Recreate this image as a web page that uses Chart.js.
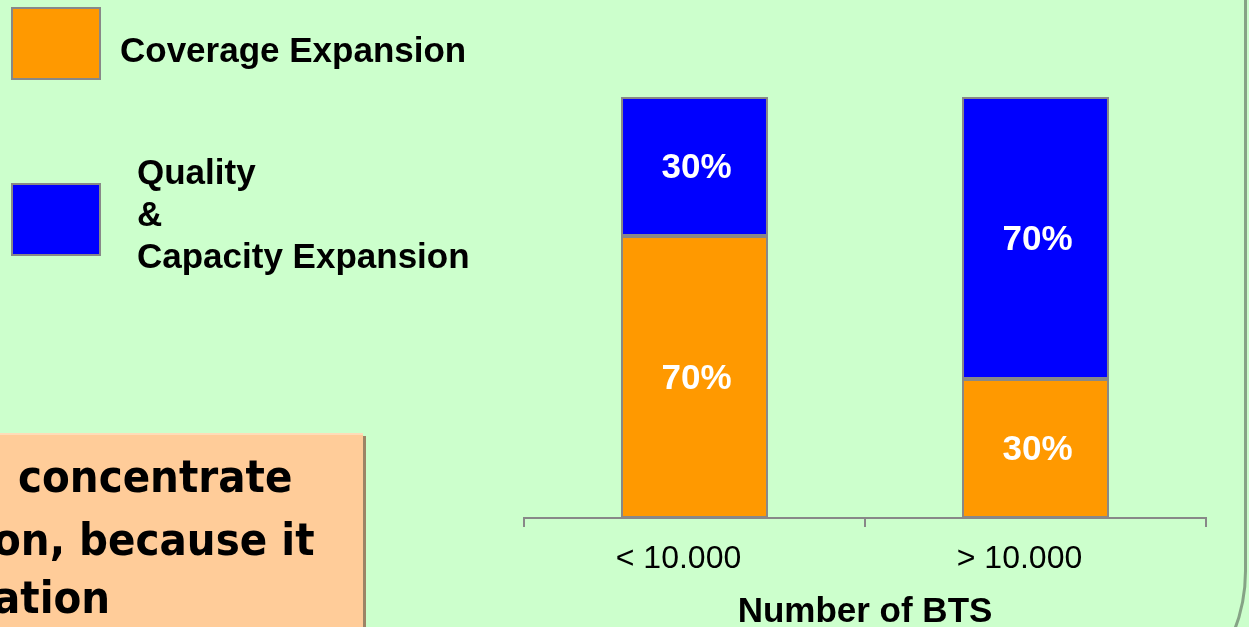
<!DOCTYPE html>
<html>
<head>
<meta charset="utf-8">
<script src="https://cdn.jsdelivr.net/npm/chart.js@4"></script>
<style>
html, body { margin: 0; padding: 0; width: 1249px; height: 627px; overflow: hidden; background: #ccffcc; }
#frame { position: absolute; left: -10px; top: -10px; width: 1257px; height: 748px; box-sizing: border-box;
  border: 3px solid #86a386; border-radius: 0 0 167px 0; }
#myChart { position: absolute; left: 0; top: 0; }
#note { position: absolute; left: 0; top: 433px; width: 363px; height: 210px; background: #ffcc99;
  box-shadow: 3px 3px 0 #9c8466; border-top: 2px solid #ffdcb8; overflow: hidden;
  font-family: "DejaVu Sans Condensed", "DejaVu Sans", sans-serif; font-stretch: condensed;
  font-weight: bold; font-size: 45px; color: #000; }
#note div { position: absolute; line-height: 60px; white-space: nowrap; }
</style>
</head>
<body>
<div id="frame"></div>
<canvas id="myChart" width="1249" height="627"></canvas>
<div id="note">
  <div style="left:18px; top:12px;">concentrate</div>
  <div style="left:-7px; top:75px;">on, because it</div>
  <div style="left:-7px; top:133px;">ation</div>
</div>
<script>
// categories, bar heights as drawn (percent of column) and the printed labels
const labels = ['< 10.000', '> 10.000'];
const coverage = [67, 33];
const quality = [33, 67];
const coverageText = ['70%', '30%'];
const qualityText = ['30%', '70%'];
const seriesNames = ['Coverage Expansion', 'Quality & Capacity Expansion'];
const legendLines = [['Coverage Expansion'], ['Quality', '&', 'Capacity Expansion']];

const arial = "'Liberation Sans', Arial, sans-serif";

// percent labels inside bar segments
const segLabels = {
  id: 'segLabels',
  afterDatasetsDraw(chart) {
    const ctx = chart.ctx;
    ctx.save();
    ctx.fillStyle = '#fff';
    ctx.font = 'bold 35px ' + arial;
    ctx.textAlign = 'center';
    ctx.textBaseline = 'middle';
    chart.data.datasets.forEach((ds, i) => {
      chart.getDatasetMeta(i).data.forEach((bar, j) => {
        ctx.fillText(ds.valueText[j], bar.x + 2, (bar.y + bar.base) / 2 + 2);
      });
    });
    ctx.restore();
  }
};

// legend on the left, boxes stacked with text beside
const sideLegend = {
  id: 'sideLegend',
  afterDraw(chart) {
    const ctx = chart.ctx;
    const boxTop = [8, 184];
    const firstBase = [62, 184];
    const textX = [120, 137];
    ctx.save();
    chart.data.datasets.forEach((ds, i) => {
      ctx.fillStyle = ds.backgroundColor;
      ctx.fillRect(12, boxTop[i], 88, 71);
      ctx.strokeStyle = '#888';
      ctx.lineWidth = 2;
      ctx.strokeRect(12, boxTop[i], 88, 71);
      ctx.fillStyle = '#000';
      ctx.font = 'bold 35px ' + arial;
      ctx.textAlign = 'left';
      ctx.textBaseline = 'alphabetic';
      legendLines[i].forEach((line, k) => {
        ctx.fillText(line, textX[i], firstBase[i] + k * 42);
      });
    });
    ctx.restore();
  }
};

const data = {
  labels: labels,
  datasets: [{
    label: seriesNames[0],
    valueText: coverageText,
    backgroundColor: '#ff9900',
    borderColor: '#888',
    borderWidth: 2,
    borderSkipped: false,
    data: coverage
  }, {
    label: seriesNames[1],
    valueText: qualityText,
    backgroundColor: '#0000ff',
    borderColor: '#888',
    borderWidth: 2,
    borderSkipped: false,
    data: quality
  }]
};

const config = {
  type: 'bar',
  data: data,
  options: {
    responsive: false,
    devicePixelRatio: 1,
    animation: false,
    layout: { padding: { left: 524, right: 43, top: 97, bottom: 0 } },
    categoryPercentage: 1,
    barPercentage: 0.431,
    plugins: { legend: { display: false }, tooltip: { enabled: false } },
    scales: {
      y: { display: false, stacked: true, min: 0, max: 100 },
      x: {
        stacked: true,
        afterFit: s => { s.height = 109; },
        border: { color: '#888', width: 2 },
        grid: { drawOnChartArea: false, tickLength: 9, color: '#888', lineWidth: 2 },
        ticks: { color: '#000', padding: 13, labelOffset: -16, font: { family: arial, size: 32 } },
        title: {
          display: true, text: 'Number of BTS', color: '#000',
          font: { family: arial, size: 35, weight: 'bold', lineHeight: 1 }, padding: { top: 0, bottom: -3 }
        }
      }
    }
  },
  plugins: [segLabels, sideLegend]
};

const myChart = new Chart(document.getElementById('myChart'), config);
</script>
</body>
</html>
